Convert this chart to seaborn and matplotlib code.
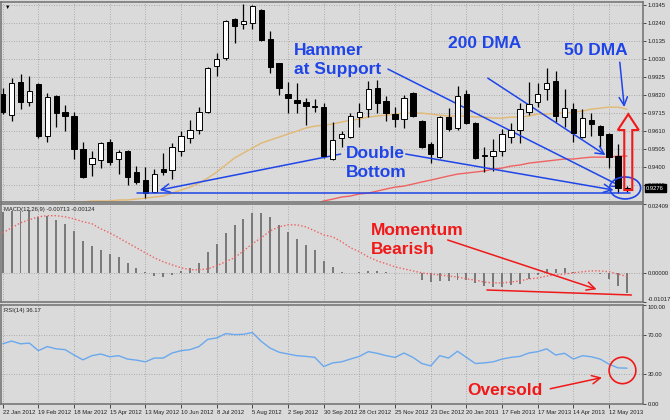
import matplotlib
matplotlib.use('Agg')
import matplotlib.pyplot as plt
import matplotlib.patches as mpatches
import matplotlib.transforms as mtransforms
import seaborn as sns

# weekly candles, 22 Jan 2012 .. 26 May 2013
opens = [0.9826, 0.9703, 0.9896, 0.9779, 0.9884, 0.9581, 0.9814, 0.9721, 0.9698, 0.9505,
         0.9418, 0.9441, 0.9546, 0.9447, 0.9493, 0.9371, 0.9324, 0.9254, 0.9388, 0.9383,
         0.9493, 0.9569, 0.9616, 0.9721, 0.9989, 1.0036, 1.0263, 1.0234, 1.0240, 1.0316,
         1.0147, 1.0007, 0.9826, 0.9791, 0.9779, 0.9750, 0.9750, 0.9447, 0.9569, 0.9575,
         0.9692, 0.9738, 0.9861, 0.9785, 0.9709, 0.9680, 0.9832, 0.9668, 0.9534, 0.9458,
         0.9692, 0.9628, 0.9826, 0.9657, 0.9464, 0.9464, 0.9493, 0.9575, 0.9616, 0.9721,
         0.9779, 0.9855, 0.9902, 0.9692, 0.9738, 0.9575, 0.9674, 0.9639, 0.9593, 0.9464,
         0.9272]
highs = [0.9861, 0.9919, 0.9943, 0.9931, 0.9890, 0.9832, 0.9820, 0.9762, 0.9721, 0.9546,
         0.9493, 0.9546, 0.9563, 0.9499, 0.9499, 0.9406, 0.9400, 0.9388, 0.9482, 0.9540,
         0.9610, 0.9674, 0.9750, 0.9983, 1.0064, 1.0258, 1.0269, 1.0351, 1.0345, 1.0322,
         1.0193, 1.0010, 0.9896, 0.9890, 0.9803, 0.9797, 0.9773, 0.9663, 0.9610, 0.9715,
         0.9773, 0.9902, 0.9908, 0.9814, 0.9750, 0.9820, 0.9838, 0.9674, 0.9546, 0.9698,
         0.9744, 0.9873, 0.9849, 0.9663, 0.9517, 0.9563, 0.9622, 0.9657, 0.9773, 0.9896,
         0.9890, 0.9977, 0.9960, 0.9855, 0.9773, 0.9738, 0.9715, 0.9645, 0.9599, 0.9534,
         0.9289]
lows = [0.9709, 0.9668, 0.9738, 0.9756, 0.9569, 0.9546, 0.9633, 0.9610, 0.9447, 0.9336,
        0.9348, 0.9394, 0.9412, 0.9359, 0.9295, 0.9301, 0.9219, 0.9248, 0.9353, 0.9330,
        0.9464, 0.9540, 0.9593, 0.9715, 0.9931, 1.0024, 1.0123, 1.0205, 1.0205, 1.0135,
        0.9948, 0.9820, 0.9715, 0.9715, 0.9645, 0.9721, 0.9453, 0.9441, 0.9517, 0.9569,
        0.9633, 0.9692, 0.9715, 0.9668, 0.9633, 0.9628, 0.9692, 0.9511, 0.9423, 0.9453,
        0.9610, 0.9616, 0.9651, 0.9447, 0.9371, 0.9377, 0.9464, 0.9540, 0.9540, 0.9703,
        0.9750, 0.9791, 0.9663, 0.9633, 0.9546, 0.9569, 0.9581, 0.9517, 0.9394, 0.9248,
        0.9254]
closes = [0.9721, 0.9890, 0.9779, 0.9843, 0.9581, 0.9808, 0.9715, 0.9698, 0.9505, 0.9342,
          0.9453, 0.9540, 0.9429, 0.9488, 0.9342, 0.9313, 0.9248, 0.9359, 0.9371, 0.9517,
          0.9581, 0.9616, 0.9721, 0.9977, 1.0030, 1.0252, 1.0223, 1.0252, 1.0339, 1.0141,
          0.9983, 0.9861, 0.9803, 0.9773, 0.9756, 0.9756, 0.9464, 0.9558, 0.9593, 0.9698,
          0.9721, 0.9855, 0.9773, 0.9715, 0.9680, 0.9803, 0.9698, 0.9517, 0.9476, 0.9692,
          0.9622, 0.9814, 0.9657, 0.9453, 0.9470, 0.9493, 0.9593, 0.9616, 0.9738, 0.9768,
          0.9826, 0.9890, 0.9698, 0.9744, 0.9598, 0.9686, 0.9651, 0.9587, 0.9458, 0.9278,
          0.9276]

# moving averages (from the daily chart)
ma50 = [0.9138, 0.9149, 0.9161, 0.9173, 0.9184, 0.9190, 0.9196, 0.9196, 0.9196, 0.9196,
        0.9202, 0.9202, 0.9202, 0.9208, 0.9208, 0.9213, 0.9219, 0.9225, 0.9231, 0.9248,
        0.9266, 0.9283, 0.9306, 0.9336, 0.9371, 0.9412, 0.9453, 0.9482, 0.9511, 0.9540,
        0.9558, 0.9575, 0.9593, 0.9610, 0.9628, 0.9639, 0.9645, 0.9651, 0.9663, 0.9674,
        0.9680, 0.9692, 0.9698, 0.9703, 0.9709, 0.9715, 0.9715, 0.9715, 0.9709, 0.9703,
        0.9698, 0.9698, 0.9698, 0.9692, 0.9692, 0.9686, 0.9686, 0.9692, 0.9692, 0.9698,
        0.9709, 0.9709, 0.9715, 0.9715, 0.9721, 0.9727, 0.9738, 0.9744, 0.9750, 0.9750,
        0.9738]
ma200_start = 34
ma200 = [0.9178, 0.9184, 0.9202, 0.9213, 0.9225, 0.9231, 0.9243, 0.9248, 0.9260, 0.9272,
         0.9283, 0.9289, 0.9301, 0.9313, 0.9324, 0.9336, 0.9348, 0.9359, 0.9365, 0.9371,
         0.9377, 0.9388, 0.9394, 0.9406, 0.9412, 0.9423, 0.9429, 0.9435, 0.9441, 0.9447,
         0.9447, 0.9453, 0.9458, 0.9458, 0.9458, 0.9464, 0.9464]

# MACD(12,26,9)
macd = [0.0212, 0.0217, 0.0217, 0.0221, 0.0196, 0.0200, 0.0186, 0.0172, 0.0147, 0.0112,
        0.0095, 0.0081, 0.0067, 0.0056, 0.0035, 0.0018, 0.0004, -0.0011, -0.0014, -0.0007,
        0.0007, 0.0018, 0.0035, 0.0074, 0.0102, 0.0140, 0.0168, 0.0189, 0.0210, 0.0210,
        0.0196, 0.0168, 0.0144, 0.0119, 0.0098, 0.0081, 0.0042, 0.0021, 0.0004, 0.0001,
        0.0002, 0.0007, 0.0007, 0.0004, 0.0001, -0.0001, -0.0002, -0.0025, -0.0032, -0.0028,
        -0.0028, -0.0025, -0.0025, -0.0035, -0.0046, -0.0049, -0.0049, -0.0042, -0.0039, -0.0021,
        -0.0007, 0.0014, 0.0014, 0.0018, 0.0004, 0.0001, -0.0001, -0.0004, -0.0021, -0.0046,
        -0.00713]
signal = [0.0140, 0.0158, 0.0175, 0.0186, 0.0196, 0.0200, 0.0200, 0.0196, 0.0189, 0.0179,
          0.0172, 0.0154, 0.0140, 0.0123, 0.0105, 0.0088, 0.0070, 0.0053, 0.0039, 0.0028,
          0.0018, 0.0011, 0.0011, 0.0014, 0.0025, 0.0039, 0.0053, 0.0077, 0.0102, 0.0123,
          0.0147, 0.0161, 0.0168, 0.0168, 0.0161, 0.0147, 0.0133, 0.0126, 0.0109, 0.0088,
          0.0074, 0.0056, 0.0042, 0.0032, 0.0021, 0.0014, 0.0007, 0.0000, -0.0004, -0.0007,
          -0.0011, -0.0014, -0.0021, -0.0025, -0.0032, -0.0035, -0.0035, -0.0032, -0.0028, -0.0021,
          -0.0018, -0.0011, -0.0007, -0.0004, 0.0000, 0.0004, 0.0007, 0.0007, 0.0004, -0.0004,
          -0.00124]

# RSI(14)
rsi = [60.8, 63.6, 60.8, 61.5, 53.9, 58.0, 55.7, 54.9, 49.5, 44.6,
       48.8, 50.5, 47.7, 48.8, 45.4, 44.3, 42.6, 46.4, 46.4, 51.5,
       53.9, 54.9, 58.0, 65.3, 66.7, 71.1, 70.1, 70.4, 72.2, 63.2,
       56.4, 52.3, 50.5, 48.8, 48.1, 47.1, 37.8, 41.5, 42.6, 45.4,
       48.1, 52.9, 51.2, 48.8, 47.1, 51.5, 47.1, 40.9, 38.5, 48.8,
       46.4, 53.3, 47.1, 40.9, 41.5, 42.6, 45.4, 47.1, 48.1, 51.5,
       52.9, 55.7, 49.5, 51.2, 45.4, 48.8, 47.7, 45.4, 40.2, 36.5,
       36.17]

date_labels = ['22 Jan 2012', '19 Feb 2012', '18 Mar 2012', '15 Apr 2012', '13 May 2012',
               '10 Jun 2012', '8 Jul 2012', '5 Aug 2012', '2 Sep 2012', '30 Sep 2012',
               '28 Oct 2012', '25 Nov 2012', '23 Dec 2012', '20 Jan 2013', '17 Feb 2013',
               '17 Mar 2013', '14 Apr 2013', '12 May 2013']
price_ticks = [1.0345, 1.0240, 1.0135, 1.0030, 0.9925, 0.9820, 0.9715, 0.9610, 0.9505, 0.9400, 0.9295]
macd_ticks = [0.02409, 0.0, -0.01017]
rsi_ticks = [100, 70, 30, 0]

n = len(closes)
idx = list(range(n))
date_idx = [4 * k for k in range(len(date_labels))]

sns.set_theme(style='white')
plt.rcParams['font.family'] = ['Liberation Sans', 'DejaVu Sans']

bg = '#DADADA'
blue = '#1F45E8'
red = '#F01818'
gridc = '#9A9A9A'
dot = (0, (1, 2))
small = 4.2

fig = plt.figure(figsize=(6.7, 4.2), dpi=100, facecolor=bg)
ax1 = fig.add_axes([0.002, 0.519, 0.9577, 0.476])
ax2 = fig.add_axes([0.002, 0.281, 0.9577, 0.2333], sharex=ax1)
ax3 = fig.add_axes([0.002, 0.0381, 0.9577, 0.2357], sharex=ax1)

for ax in (ax1, ax2, ax3):
    ax.set_facecolor(bg)
    for s in ax.spines.values():
        s.set_color('#707070')
        s.set_linewidth(1.1)
    ax.yaxis.tick_right()
    ax.tick_params(axis='y', right=True, left=False, labelright=True, labelleft=False,
                   length=2.5, width=0.6, color='#303030', labelsize=small, pad=1, labelcolor='#202020')
    ax.set_xticks(date_idx)
    ax.grid(False)
    for d in date_idx:
        ax.axvline(d, color=gridc, lw=0.6, ls=dot, zorder=0)

# ---- price panel ----
for p in price_ticks:
    ax1.axhline(p, color=gridc, lw=0.6, ls=dot, zorder=0)

ax1.vlines(idx, lows, highs, color='black', lw=0.9, zorder=3)
for i in idx:
    o, c = opens[i], closes[i]
    h = max(abs(c - o), 0.0002)
    fill = 'white' if c >= o else 'black'
    ax1.bar(i, h, bottom=min(o, c), width=0.6, color=fill, edgecolor='black', linewidth=0.7, zorder=4)

sns.lineplot(x=idx, y=ma50, ax=ax1, color='#E2B872', lw=1, zorder=2)
sns.lineplot(x=idx[ma200_start:], y=ma200, ax=ax1, color='#F06262', lw=1, zorder=2)

ax1.set_ylim(0.9196, 1.0363)
ax1.set_yticks(price_ticks, [f'{p:.4f}' for p in price_ticks])
ax1.tick_params(axis='x', bottom=False, labelbottom=False)
ax1.text(0.006, 0.985, '\u25bc', transform=ax1.transAxes, fontsize=4, va='top', color='black')

tr = mtransforms.blended_transform_factory(ax1.transAxes, ax1.transData)
ax1.text(1.005, closes[-1], f'{closes[-1]:.4f}', transform=tr, color='white', fontsize=small,
         va='center', ha='left', zorder=10,
         bbox=dict(boxstyle='square,pad=0.25', fc='black', ec='black'))

tfont = dict(fontsize=12.5, fontweight='bold', ha='left', va='center', linespacing=1.35)
ax1.text(32.7, 1.0027, 'Hammer\nat Support', color=blue, **tfont)
ax1.text(49.9, 1.0123, '200 DMA', color=blue, **tfont)
ax1.text(62.9, 1.0083, '50 DMA', color=blue, **tfont)
ax1.text(38.5, 0.9423, 'Double\nBottom', color=blue, **tfont)

arr = dict(arrowstyle='->,head_length=0.5,head_width=0.25', color=blue, lw=1.1, shrinkA=0, shrinkB=0)
ax1.annotate('', xy=(69.5, 0.9283), xytext=(43.2, 0.9972), arrowprops=arr)
ax1.annotate('', xy=(67.6, 0.9470), xytext=(54.4, 0.9919), arrowprops=arr)
ax1.annotate('', xy=(69.7, 0.9750), xytext=(69.2, 1.0012), arrowprops=arr)
ax1.annotate('', xy=(17.6, 0.9266), xytext=(37.9, 0.9476), arrowprops=arr)
ax1.annotate('', xy=(68.5, 0.9266), xytext=(45.2, 0.9476), arrowprops=arr)
ax1.plot([15.1, 70.3], [lows[17], lows[17]], color=blue, lw=1.1, zorder=5)
ax1.add_patch(mpatches.Ellipse((69.8, 0.9278), 3.47, 0.0128, fill=False, ec=blue, lw=1.2, zorder=6))
ax1.add_patch(mpatches.FancyArrow(70.15, 0.9266, 0, 0.0443, width=0.9, head_width=2.35,
                                  head_length=0.0093, length_includes_head=True,
                                  fill=False, ec=red, lw=1.5, zorder=7))

# ---- MACD panel ----
ax2.axhline(0, color=gridc, lw=0.6, ls=dot, zorder=0)
ax2.bar(idx, macd, width=0.22, color='#7A7A7A', edgecolor='none', linewidth=0, zorder=2)
sns.lineplot(x=idx, y=signal, ax=ax2, color='#F06060', lw=1, linestyle=(0, (1, 1.5)), zorder=3)
ax2.set_ylim(-0.01017, 0.02409)
ax2.set_yticks(macd_ticks, [f'{v:.5f}' for v in macd_ticks])
labs = ax2.get_yticklabels()
labs[0].set_va('top')
labs[2].set_va('bottom')
ax2.tick_params(axis='x', bottom=False, labelbottom=False)
ax2.text(0.004, 0.97, f'MACD(12,26,9) {macd[-1]:.5f} {signal[-1]:.5f}', transform=ax2.transAxes,
         fontsize=small, va='top', ha='left', color='#202020')
ax2.text(41.3, 0.0115, 'Momentum\nBearish', color=red, **tfont)
rarr = dict(arr, color=red)
ax2.annotate('', xy=(66.6, -0.00573), xytext=(49.9, 0.0115), arrowprops=rarr)
ax2.plot([54.3, 70.5], [-0.00598, -0.00773], color=red, lw=1.1, zorder=4)

# ---- RSI panel ----
for lv in (70, 30):
    ax3.axhline(lv, color=gridc, lw=0.6, ls=dot, zorder=0)
sns.lineplot(x=idx, y=rsi, ax=ax3, color='#6AA8EE', lw=1, zorder=3)
ax3.set_ylim(0, 100)
ax3.set_yticks(rsi_ticks, [f'{v:.2f}' for v in rsi_ticks])
labs = ax3.get_yticklabels()
labs[0].set_va('top')
ax3.text(0.004, 0.97, f'RSI(14) {rsi[-1]:.2f}', transform=ax3.transAxes,
         fontsize=small, va='top', ha='left', color='#202020')
ax3.text(52.1, 13.4, 'Oversold', color=red, **tfont)
ax3.annotate('', xy=(67.2, 26.7), xytext=(61.4, 15.4), arrowprops=rarr)
ax3.add_patch(mpatches.Ellipse((69.5, 33.9), 3.0, 26.7, fill=False, ec=red, lw=1.2, zorder=5))

ax3.set_xticks(date_idx, date_labels)
for lab in ax3.get_xticklabels():
    lab.set_ha('left')
ax3.tick_params(axis='x', bottom=True, length=3, width=0.6, color='#303030', labelsize=small,
                pad=1, labelcolor='#202020')
ax3.set_xlim(-0.15, 71.8)

for ax in (ax1, ax2, ax3):
    ax.set_xlabel('')
    ax.set_ylabel('')

fig.savefig('out.png', dpi=100, facecolor=bg)
